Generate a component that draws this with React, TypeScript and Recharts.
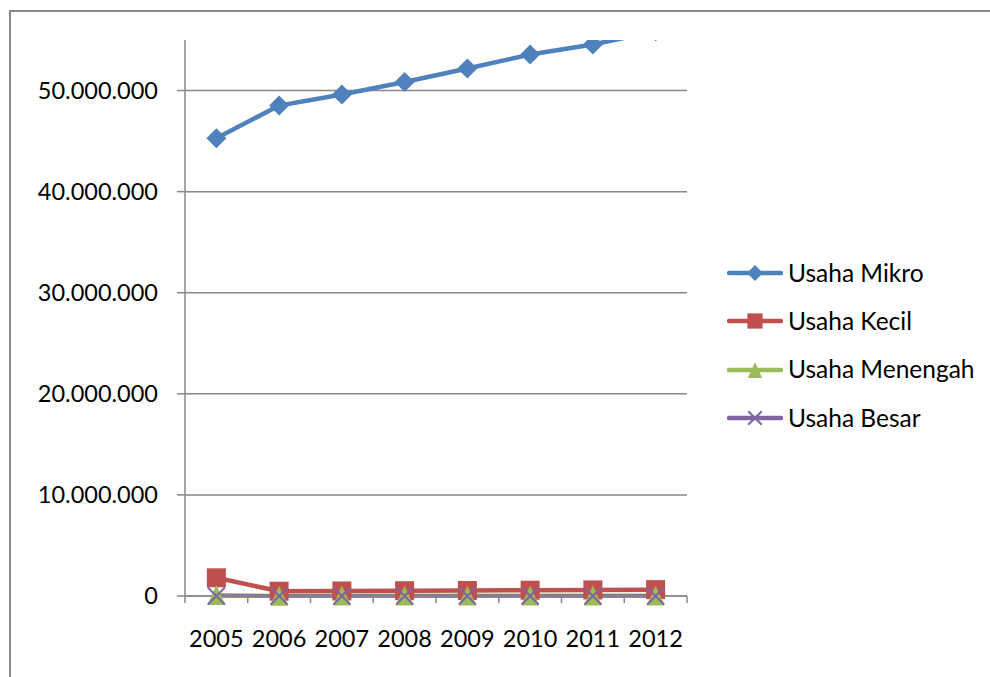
import { LineChart, Line, XAxis, YAxis, CartesianGrid, Legend } from 'recharts'

const years = ['2005', '2006', '2007', '2008', '2009', '2010', '2011', '2012']
const mikro = [45290000, 48512438, 49608953, 50847771, 52176795, 53560000, 54559969, 55856176]
const kecil = [1800000, 472602, 498565, 522124, 546675, 573601, 602195, 629418]
const menengah = [95000, 36763, 38282, 39717, 41133, 42631, 44280, 48997]
const besar = [4000, 4577, 4463, 4650, 4677, 4838, 4952, 4968]
const yTicks = [0, 10000000, 20000000, 30000000, 40000000, 50000000]
const Y_MAX = 55000000

const data = years.map((year, i) => ({
  year,
  mikro: mikro[i],
  kecil: kecil[i],
  menengah: menengah[i],
  besar: besar[i],
}))

const W = 990
const H = 677
const margin = { top: 40, right: 303, bottom: 0, left: 0 }
const Y_AXIS_W = 185
const X_AXIS_H = 81
const plotW = W - margin.left - margin.right - Y_AXIS_W
const halfBand = plotW / years.length / 2

const FONT = 'Lato, "Open Sans", sans-serif'
const GRID = '#888888'

const BLUE = '#4F81BD'
const RED = '#C0504D'
const GREEN = '#9BBB59'
const PURPLE = '#8064A2'

const fmt = (v: number) => String(v).replace(/\B(?=(\d{3})+(?!\d))/g, '.')

type Shape = 'diamond' | 'square' | 'triangle' | 'cross'

function Marker({ cx, cy, shape, color, s = 1 }: { cx: number; cy: number; shape: Shape; color: string; s?: number }) {
  if (shape === 'diamond') {
    const r = 10 * s
    return <path d={`M${cx},${cy - r} L${cx + r},${cy} L${cx},${cy + r} L${cx - r},${cy} Z`} fill={color} />
  }
  if (shape === 'square') {
    const r = 9.5 * s
    return <rect x={cx - r} y={cy - r} width={r * 2} height={r * 2} fill={color} />
  }
  if (shape === 'triangle') {
    const w = 9 * s
    const h = 10 * s
    return <path d={`M${cx},${cy - h} L${cx + w},${cy + h} L${cx - w},${cy + h} Z`} fill={color} />
  }
  const r = 8.5 * s
  return (
    <g stroke={color} strokeWidth={2}>
      <line x1={cx - r} y1={cy - r} x2={cx + r} y2={cy + r} />
      <line x1={cx - r} y1={cy + r} x2={cx + r} y2={cy - r} />
    </g>
  )
}

// only the micro series runs past the top of the axis, so only it uses the clipping axis
const series: { key: string; name: string; color: string; shape: Shape; axis: string; width: number }[] = [
  { key: 'mikro', name: 'Usaha Mikro', color: BLUE, shape: 'diamond', axis: 'clip', width: 4.5 },
  { key: 'kecil', name: 'Usaha Kecil', color: RED, shape: 'square', axis: 'main', width: 4.5 },
  { key: 'menengah', name: 'Usaha Menengah', color: GREEN, shape: 'triangle', axis: 'main', width: 4 },
  { key: 'besar', name: 'Usaha Besar', color: PURPLE, shape: 'cross', axis: 'main', width: 3.5 },
]

function XTick(props: any) {
  const { x, y, payload, index } = props
  const last = index === years.length - 1
  return (
    <g>
      <line x1={x - halfBand} y1={y} x2={x - halfBand} y2={y + 7} stroke={GRID} strokeWidth={1.5} />
      {last && <line x1={x + halfBand} y1={y} x2={x + halfBand} y2={y + 7} stroke={GRID} strokeWidth={1.5} />}
      <text x={x} y={y + 51} textAnchor="middle" fontSize={23.5} fontFamily={FONT} fill="#000">
        {payload.value}
      </text>
    </g>
  )
}

function LegendContent() {
  return (
    <div style={{ fontFamily: FONT, fontSize: 24.5, color: '#000' }}>
      {series.map((s) => (
        <div key={s.key} style={{ display: 'flex', alignItems: 'center', height: 48.3 }}>
          <svg width={56} height={24} style={{ display: 'block' }}>
            <line x1={2} y1={12} x2={54} y2={12} stroke={s.color} strokeWidth={4.5} strokeLinecap="round" />
            <Marker cx={28} cy={12} shape={s.shape} color={s.color} s={0.8} />
          </svg>
          <span style={{ marginLeft: 5, lineHeight: 1 }}>{s.name}</span>
        </div>
      ))}
    </div>
  )
}

// markers are drawn in an unclipped overlay so the ones sitting on the zero line are not cut
function dotFor(s: (typeof series)[number]) {
  return (p: any) =>
    p.cx == null || p.cy == null ? (
      <g key={p.index} />
    ) : (
      <Marker key={p.index} cx={p.cx} cy={p.cy} shape={s.shape} color={s.color} />
    )
}

export default function App() {
  return (
    <div style={{ position: 'absolute', left: 0, top: 0, width: W, height: H, overflow: 'hidden', background: '#fff' }}>
      <div
        style={{
          position: 'absolute',
          left: 9,
          top: 10,
          width: 1100,
          height: 800,
          border: '2px solid #898989',
          boxSizing: 'border-box',
        }}
      />
      <LineChart width={W} height={H} data={data} margin={margin} style={{ position: 'absolute', left: 0, top: 0 }}>
        <CartesianGrid
          vertical={false}
          yAxisId="main"
          horizontalValues={yTicks}
          stroke={GRID}
          strokeWidth={1.5}
        />
        <XAxis
          dataKey="year"
          height={X_AXIS_H}
          padding={{ left: halfBand, right: halfBand }}
          axisLine={{ stroke: GRID, strokeWidth: 1.5 }}
          tickLine={false}
          tickSize={0}
          tickMargin={0}
          interval={0}
          tick={<XTick />}
        />
        <YAxis
          yAxisId="main"
          width={Y_AXIS_W}
          domain={[0, Y_MAX]}
          ticks={yTicks}
          axisLine={{ stroke: GRID, strokeWidth: 1.5 }}
          tickLine={{ stroke: GRID, strokeWidth: 1.5 }}
          tickSize={8}
          tickMargin={19}
          tickFormatter={fmt}
          tick={{ fill: '#000', fontSize: 23.5, fontFamily: FONT }}
        />
        <YAxis yAxisId="clip" orientation="right" width={0} hide domain={[0, Y_MAX]} allowDataOverflow />
        <Legend
          layout="vertical"
          align="center"
          verticalAlign="middle"
          wrapperStyle={{ left: 727, top: 249, width: 262 }}
          content={<LegendContent />}
        />
        {series.map((s) => (
          <Line
            key={s.key}
            yAxisId={s.axis}
            dataKey={s.key}
            name={s.name}
            type="linear"
            stroke={s.color}
            strokeWidth={s.width}
            isAnimationActive={false}
            activeDot={false}
            dot={s.axis === 'clip' ? dotFor(s) : false}
          />
        ))}
        {series
          .filter((s) => s.axis !== 'clip')
          .map((s) => (
            <Line
              key={s.key + '-markers'}
              yAxisId={s.axis}
              dataKey={s.key}
              legendType="none"
              stroke="none"
              isAnimationActive={false}
              activeDot={false}
              dot={dotFor(s)}
            />
          ))}
      </LineChart>
    </div>
  )
}
